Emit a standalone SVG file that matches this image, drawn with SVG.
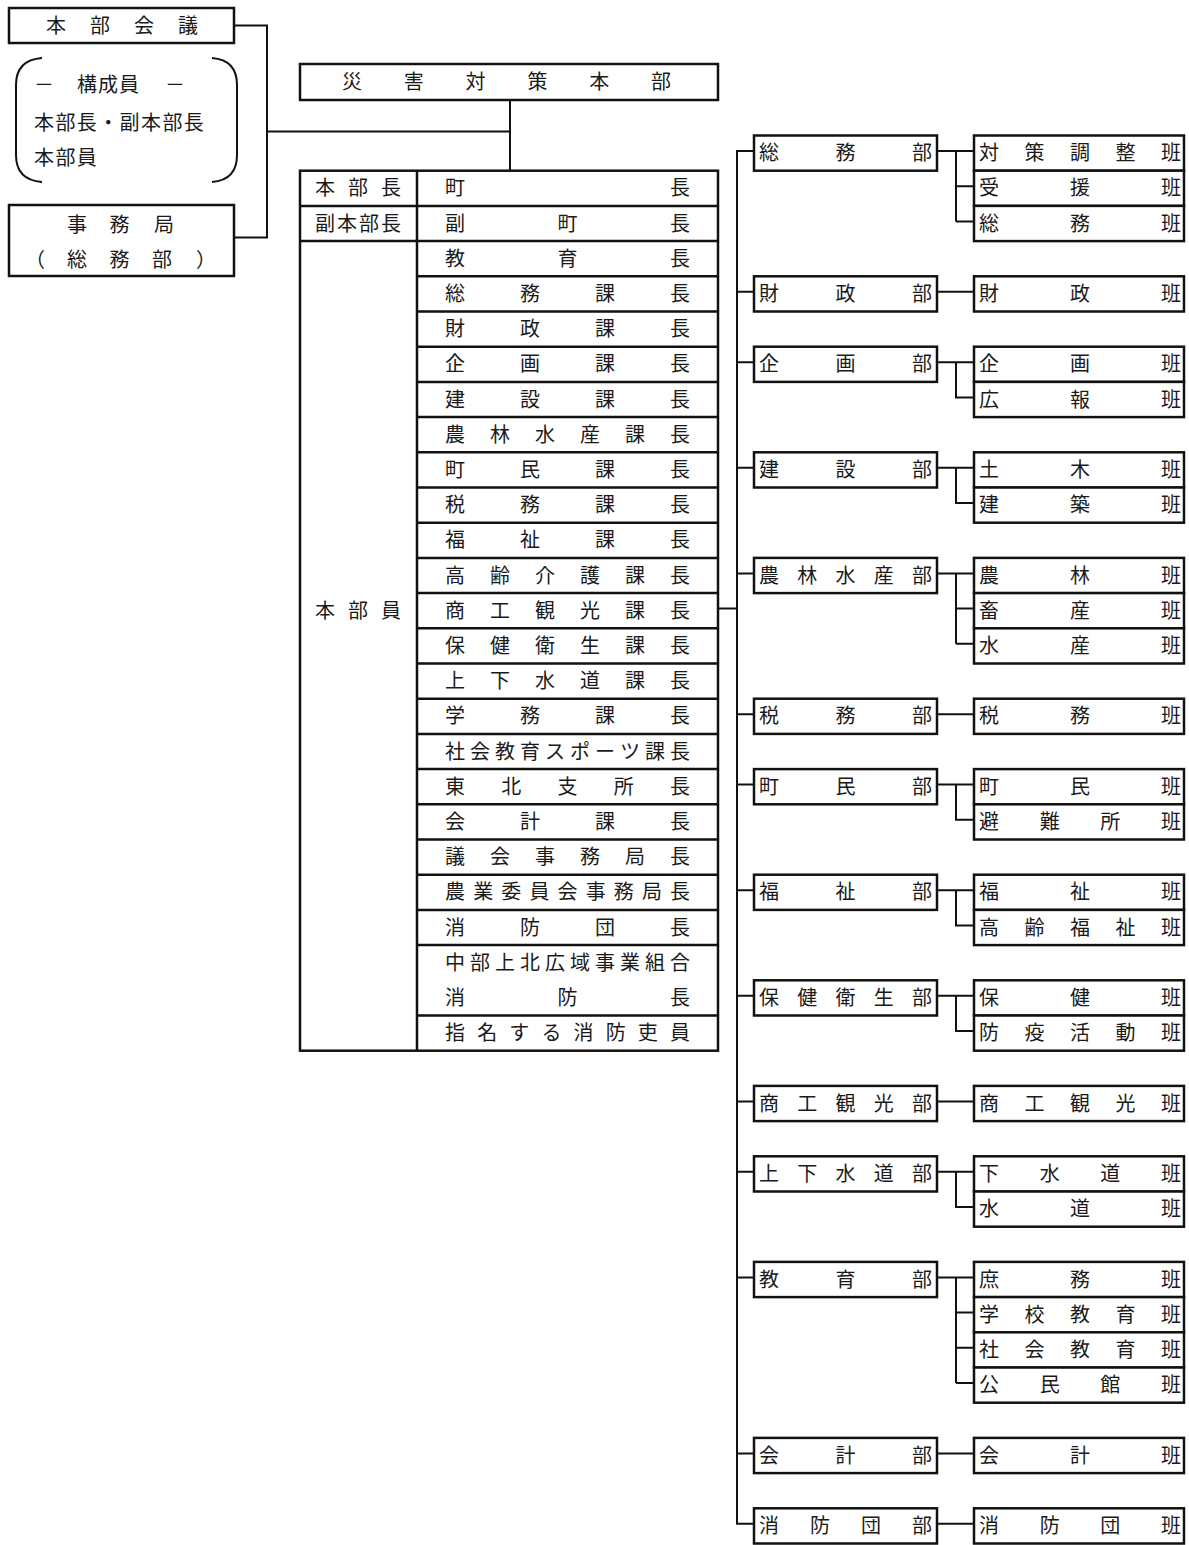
<svg xmlns="http://www.w3.org/2000/svg" width="1189" height="1545" viewBox="0 0 1189 1545">
<style>
text{font-family:"Noto Sans CJK JP","Noto Sans CJK SC",sans-serif;font-size:20px;fill:#1a1a1a}
.box{fill:#fff;stroke:#111;stroke-width:2.5}
.ln{fill:none;stroke:#111;stroke-width:2}
.tl{fill:none;stroke:#111;stroke-width:2.5}
</style>
<rect width="1189" height="1545" fill="#fff"/>

<g id="connectors">
  <path class="ln" d="M234 25.5H267V237.5H234M267 131.5H510M510 100V170.7"/>
  <path class="ln" d="M718 608.6H737M754 151H737V1523.8H754"/>
  <path class="ln" d="M737 291.8H754M737 362.2H754M737 467.8H754M737 573.4H754M737 714.2H754M737 784.6H754M737 890.2H754M737 995.8H754M737 1101.4H754M737 1171.8H754M737 1277.4H754M737 1453.4H754"/>
  <path class="ln" d="M937 151H974M956 151V221.4M956 186.2H974M956 221.4H974"/>
  <path class="ln" d="M937 291.8H974"/>
  <path class="ln" d="M937 362.2H974M956 362.2V397.4H974"/>
  <path class="ln" d="M937 467.8H974M956 467.8V503H974"/>
  <path class="ln" d="M937 573.4H974M956 573.4V643.8M956 608.6H974M956 643.8H974"/>
  <path class="ln" d="M937 714.2H974"/>
  <path class="ln" d="M937 784.6H974M956 784.6V819.8H974"/>
  <path class="ln" d="M937 890.2H974M956 890.2V925.4H974"/>
  <path class="ln" d="M937 995.8H974M956 995.8V1031H974"/>
  <path class="ln" d="M937 1101.4H974"/>
  <path class="ln" d="M937 1171.8H974M956 1171.8V1207H974"/>
  <path class="ln" d="M937 1277.4H974M956 1277.4V1383M956 1312.6H974M956 1347.8H974M956 1383H974"/>
  <path class="ln" d="M937 1453.4H974"/>
  <path class="ln" d="M937 1523.8H974"/>
</g>

<g id="honbu-kaigi">
  <rect class="box" x="9" y="8" width="225" height="35"/>
  <text x="46 90 134 178" y="32.5">本部会議</text>
</g>

<g id="koseiin">
  <path class="ln" d="M42 58Q16 60 16 85V155Q16 180 42 182"/>
  <path class="ln" d="M212 58Q237 60 237 85V155Q237 180 212 182"/>
  <text x="34 77 98 119 165" y="92">－構成員－</text>
  <text x="34 55.4 76.8 98.2 119.6 141 162.4 183.8" y="129.5">本部長・副本部長</text>
  <text x="34 55.4 76.8" y="164.5">本部員</text>
</g>

<g id="jimukyoku">
  <rect class="box" x="9" y="205" width="225" height="71"/>
  <text x="67 109.5 154" y="232">事務局</text>
  <text x="25 67 109.5 152 196" y="267">（総務部）</text>
</g>

<g id="saigai-honbu">
  <rect class="box" x="300" y="64" width="418" height="36"/>
  <text x="342 403.8 465.6 527.4 589.2 651" y="89">災害対策本部</text>
</g>

<g id="honbu-table">
  <rect class="box" x="300" y="170.7" width="418" height="880"/>
  <path class="tl" d="M417 170.7V1050.7M300 205.9H718M300 241.1H718
  M417 276.3H718M417 311.5H718M417 346.7H718M417 381.9H718M417 417.1H718M417 452.3H718M417 487.5H718M417 522.7H718M417 557.9H718M417 593.1H718M417 628.3H718M417 663.5H718M417 698.7H718M417 733.9H718M417 769.1H718M417 804.3H718M417 839.5H718M417 874.7H718M417 909.9H718M417 945.1H718M417 1015.5H718"/>
  <text x="315 348 381" y="195.3">本部長</text>
  <text x="315 337 359 381" y="230.5">副本部長</text>
  <text x="315 348 381" y="617.7">本部員</text>
  <text x="445 670" y="195.3">町長</text>
  <text x="445 557.5 670" y="230.5">副町長</text>
  <text x="445 557.5 670" y="265.7">教育長</text>
  <text x="445 520 595 670" y="300.9">総務課長</text>
  <text x="445 520 595 670" y="336.1">財政課長</text>
  <text x="445 520 595 670" y="371.3">企画課長</text>
  <text x="445 520 595 670" y="406.5">建設課長</text>
  <text x="445 490 535 580 625 670" y="441.7">農林水産課長</text>
  <text x="445 520 595 670" y="476.9">町民課長</text>
  <text x="445 520 595 670" y="512.1">税務課長</text>
  <text x="445 520 595 670" y="547.3">福祉課長</text>
  <text x="445 490 535 580 625 670" y="582.5">高齢介護課長</text>
  <text x="445 490 535 580 625 670" y="617.7">商工観光課長</text>
  <text x="445 490 535 580 625 670" y="652.9">保健衛生課長</text>
  <text x="445 490 535 580 625 670" y="688.1">上下水道課長</text>
  <text x="445 520 595 670" y="723.3">学務課長</text>
  <text x="445 470 495 520 545 570 595 620 645 670" y="758.5">社会教育スポーツ課長</text>
  <text x="445 501.25 557.5 613.75 670" y="793.7">東北支所長</text>
  <text x="445 520 595 670" y="828.9">会計課長</text>
  <text x="445 490 535 580 625 670" y="864.1">議会事務局長</text>
  <text x="445 473.13 501.25 529.38 557.5 585.63 613.75 641.88 670" y="899.3">農業委員会事務局長</text>
  <text x="445 520 595 670" y="934.5">消防団長</text>
  <text x="445 470 495 520 545 570 595 620 645 670" y="969.7">中部上北広域事業組合</text>
  <text x="445 557.5 670" y="1004.9">消防長</text>
  <text x="445 477.14 509.29 541.43 573.57 605.71 637.86 670" y="1040.1">指名する消防吏員</text>
</g>

<g id="dept-somu">
  <rect class="box" x="754" y="135.5" width="183" height="35.2"/>
  <text x="759 835.5 912" y="160.1">総務部</text>
  <rect class="box" x="974" y="135.5" width="210" height="35.2"/>
  <text x="979 1024.5 1070 1115.5 1161" y="160.1">対策調整班</text>
  <rect class="box" x="974" y="170.7" width="210" height="35.2"/>
  <text x="979 1070 1161" y="195.3">受援班</text>
  <rect class="box" x="974" y="205.9" width="210" height="35.2"/>
  <text x="979 1070 1161" y="230.5">総務班</text>
</g>

<g id="dept-zaisei">
  <rect class="box" x="754" y="276.3" width="183" height="35.2"/>
  <text x="759 835.5 912" y="300.9">財政部</text>
  <rect class="box" x="974" y="276.3" width="210" height="35.2"/>
  <text x="979 1070 1161" y="300.9">財政班</text>
</g>

<g id="dept-kikaku">
  <rect class="box" x="754" y="346.7" width="183" height="35.2"/>
  <text x="759 835.5 912" y="371.3">企画部</text>
  <rect class="box" x="974" y="346.7" width="210" height="35.2"/>
  <text x="979 1070 1161" y="371.3">企画班</text>
  <rect class="box" x="974" y="381.9" width="210" height="35.2"/>
  <text x="979 1070 1161" y="406.5">広報班</text>
</g>

<g id="dept-kensetsu">
  <rect class="box" x="754" y="452.3" width="183" height="35.2"/>
  <text x="759 835.5 912" y="476.9">建設部</text>
  <rect class="box" x="974" y="452.3" width="210" height="35.2"/>
  <text x="979 1070 1161" y="476.9">土木班</text>
  <rect class="box" x="974" y="487.5" width="210" height="35.2"/>
  <text x="979 1070 1161" y="512.1">建築班</text>
</g>

<g id="dept-norin">
  <rect class="box" x="754" y="557.9" width="183" height="35.2"/>
  <text x="759 797.25 835.5 873.75 912" y="582.5">農林水産部</text>
  <rect class="box" x="974" y="557.9" width="210" height="35.2"/>
  <text x="979 1070 1161" y="582.5">農林班</text>
  <rect class="box" x="974" y="593.1" width="210" height="35.2"/>
  <text x="979 1070 1161" y="617.7">畜産班</text>
  <rect class="box" x="974" y="628.3" width="210" height="35.2"/>
  <text x="979 1070 1161" y="652.9">水産班</text>
</g>

<g id="dept-zeimu">
  <rect class="box" x="754" y="698.7" width="183" height="35.2"/>
  <text x="759 835.5 912" y="723.3">税務部</text>
  <rect class="box" x="974" y="698.7" width="210" height="35.2"/>
  <text x="979 1070 1161" y="723.3">税務班</text>
</g>

<g id="dept-chomin">
  <rect class="box" x="754" y="769.1" width="183" height="35.2"/>
  <text x="759 835.5 912" y="793.7">町民部</text>
  <rect class="box" x="974" y="769.1" width="210" height="35.2"/>
  <text x="979 1070 1161" y="793.7">町民班</text>
  <rect class="box" x="974" y="804.3" width="210" height="35.2"/>
  <text x="979 1039.67 1100.33 1161" y="828.9">避難所班</text>
</g>

<g id="dept-fukushi">
  <rect class="box" x="754" y="874.7" width="183" height="35.2"/>
  <text x="759 835.5 912" y="899.3">福祉部</text>
  <rect class="box" x="974" y="874.7" width="210" height="35.2"/>
  <text x="979 1070 1161" y="899.3">福祉班</text>
  <rect class="box" x="974" y="909.9" width="210" height="35.2"/>
  <text x="979 1024.5 1070 1115.5 1161" y="934.5">高齢福祉班</text>
</g>

<g id="dept-hoken">
  <rect class="box" x="754" y="980.3" width="183" height="35.2"/>
  <text x="759 797.25 835.5 873.75 912" y="1004.9">保健衛生部</text>
  <rect class="box" x="974" y="980.3" width="210" height="35.2"/>
  <text x="979 1070 1161" y="1004.9">保健班</text>
  <rect class="box" x="974" y="1015.5" width="210" height="35.2"/>
  <text x="979 1024.5 1070 1115.5 1161" y="1040.1">防疫活動班</text>
</g>

<g id="dept-shoko">
  <rect class="box" x="754" y="1085.9" width="183" height="35.2"/>
  <text x="759 797.25 835.5 873.75 912" y="1110.5">商工観光部</text>
  <rect class="box" x="974" y="1085.9" width="210" height="35.2"/>
  <text x="979 1024.5 1070 1115.5 1161" y="1110.5">商工観光班</text>
</g>

<g id="dept-suido">
  <rect class="box" x="754" y="1156.3" width="183" height="35.2"/>
  <text x="759 797.25 835.5 873.75 912" y="1180.9">上下水道部</text>
  <rect class="box" x="974" y="1156.3" width="210" height="35.2"/>
  <text x="979 1039.67 1100.33 1161" y="1180.9">下水道班</text>
  <rect class="box" x="974" y="1191.5" width="210" height="35.2"/>
  <text x="979 1070 1161" y="1216.1">水道班</text>
</g>

<g id="dept-kyoiku">
  <rect class="box" x="754" y="1261.9" width="183" height="35.2"/>
  <text x="759 835.5 912" y="1286.5">教育部</text>
  <rect class="box" x="974" y="1261.9" width="210" height="35.2"/>
  <text x="979 1070 1161" y="1286.5">庶務班</text>
  <rect class="box" x="974" y="1297.1" width="210" height="35.2"/>
  <text x="979 1024.5 1070 1115.5 1161" y="1321.7">学校教育班</text>
  <rect class="box" x="974" y="1332.3" width="210" height="35.2"/>
  <text x="979 1024.5 1070 1115.5 1161" y="1356.9">社会教育班</text>
  <rect class="box" x="974" y="1367.5" width="210" height="35.2"/>
  <text x="979 1039.67 1100.33 1161" y="1392.1">公民館班</text>
</g>

<g id="dept-kaikei">
  <rect class="box" x="754" y="1437.9" width="183" height="35.2"/>
  <text x="759 835.5 912" y="1462.5">会計部</text>
  <rect class="box" x="974" y="1437.9" width="210" height="35.2"/>
  <text x="979 1070 1161" y="1462.5">会計班</text>
</g>

<g id="dept-shobodan">
  <rect class="box" x="754" y="1508.3" width="183" height="35.2"/>
  <text x="759 810 861 912" y="1532.9">消防団部</text>
  <rect class="box" x="974" y="1508.3" width="210" height="35.2"/>
  <text x="979 1039.67 1100.33 1161" y="1532.9">消防団班</text>
</g>
</svg>
